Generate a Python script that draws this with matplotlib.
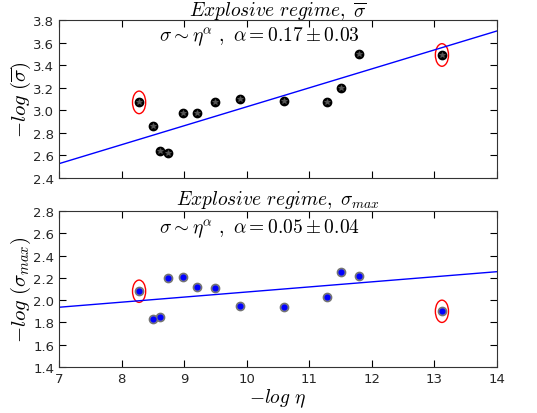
import numpy as np
import matplotlib
matplotlib.use('Agg')
import matplotlib.pyplot as plt
from matplotlib.patches import Ellipse

plt.rcParams['mathtext.fontset'] = 'cm'
plt.rcParams['font.family'] = 'DejaVu Sans'

# -log eta
x = np.array([8.28, 8.51, 8.62, 8.74, 8.98, 9.21, 9.49, 9.89, 10.59, 11.28, 11.50, 11.79, 13.12])
# -log(mean sigma)
y_mean = np.array([3.07, 2.86, 2.635, 2.62, 2.98, 2.975, 3.07, 3.10, 3.08, 3.07, 3.195, 3.50, 3.49])
# -log(sigma max)
y_max = np.array([2.08, 1.83, 1.85, 2.20, 2.21, 2.12, 2.11, 1.945, 1.94, 2.03, 2.25, 2.22, 1.90])
# fitted lines: slope, intercept
fit_mean = (0.168, 1.351)
fit_max = (0.0456, 1.617)
outliers = [0, 12]

fig = plt.figure(figsize=(5.37, 4.14), dpi=100)
ax1 = fig.add_axes([59/537, 1-179/414, 438/537, 158/414])
ax2 = fig.add_axes([59/537, 1-368/414, 438/537, 156/414])

xl = np.array([7, 14])

ax1.plot(xl, fit_mean[0]*xl + fit_mean[1], color='b', lw=1)
ax1.plot(x, y_mean, 'o', color='k', ms=6, mec='k')
ax1.plot(x, y_mean, '*', color='0.35', ms=4, mec='0.35', mew=0.5)
for i in outliers:
    ax1.add_patch(Ellipse((x[i], y_mean[i]), 0.21, 0.2, fill=False, ec='r', lw=1))
ax1.set_xlim(7, 14)
ax1.set_ylim(2.4, 3.8)
ax1.set_yticks(np.arange(2.4, 3.81, 0.2))
ax1.set_xticks(np.arange(7, 15, 1))
ax1.set_xticklabels([])
ax1.text(0.5, 1.028, r'$Explosive\ regime,\ \overline{\sigma}$', fontsize=14,
         ha='center', va='baseline', transform=ax1.transAxes)
ax1.set_ylabel(r'$-log\ (\overline{\sigma})$', fontsize=15, labelpad=0)
ax1.text(10.2, 3.665, r'$\sigma \sim \eta^{\alpha}\ ,\ \alpha = 0.17 \pm 0.03$',
         fontsize=14, ha='center', va='center')

ax2.plot(xl, fit_max[0]*xl + fit_max[1], color='b', lw=1)
ax2.plot(x, y_max, 'o', color='0.55', ms=6, mec='0.45')
ax2.plot(x, y_max, 'o', color='b', ms=3.5, mec='b')
for i in outliers:
    ax2.add_patch(Ellipse((x[i], y_max[i]), 0.21, 0.2, fill=False, ec='r', lw=1))
ax2.set_xlim(7, 14)
ax2.set_ylim(1.4, 2.8)
ax2.set_yticks(np.arange(1.4, 2.81, 0.2))
ax2.set_xticks(np.arange(7, 15, 1))
ax2.text(0.5, 1.043, r'$Explosive\ regime,\ \sigma_{max}$', fontsize=14,
         ha='center', va='baseline', transform=ax2.transAxes)
ax2.set_ylabel(r'$-log\ (\sigma_{max})$', fontsize=15, labelpad=0)
ax2.set_xlabel(r'$-log\ \eta$', fontsize=14, labelpad=1)
ax2.text(10.2, 2.65, r'$\sigma \sim \eta^{\alpha}\ ,\ \alpha = 0.05 \pm 0.04$',
         fontsize=14, ha='center', va='center')

for ax in (ax1, ax2):
    ax.tick_params(direction='in', top=True, right=True, labelsize=9.5, length=5,
                   labelcolor='0.15')
    for s in ax.spines.values():
        s.set_color('0.2')

fig.savefig('out.png', dpi=100)
